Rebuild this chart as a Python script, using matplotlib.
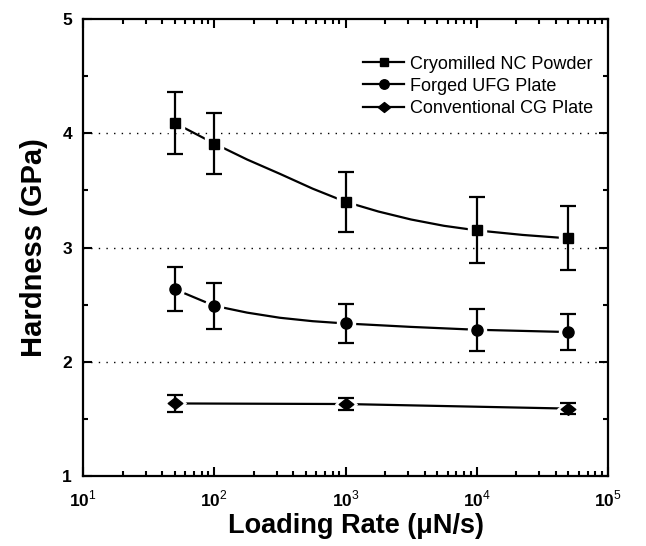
import numpy as np
import matplotlib
matplotlib.use("Agg")
import matplotlib.pyplot as plt
from matplotlib.lines import Line2D
from matplotlib.path import Path
from matplotlib.ticker import FixedLocator, FuncFormatter, LogLocator, MultipleLocator

plt.rcParams['font.family'] = ['Liberation Sans', 'DejaVu Sans']
plt.rcParams['mathtext.fontset'] = 'custom'
plt.rcParams['mathtext.rm'] = 'Liberation Sans'
plt.rcParams['mathtext.bf'] = 'Liberation Sans:bold'

# measured points
rate = [50, 100, 1000, 10000, 50000]
nc_hardness = [4.09, 3.91, 3.40, 3.15, 3.08]
nc_err = [0.27, 0.27, 0.265, 0.29, 0.28]
ufg_hardness = [2.635, 2.49, 2.335, 2.28, 2.26]
ufg_err = [0.19, 0.20, 0.17, 0.185, 0.16]
cg_rate = [50, 1000, 50000]
cg_hardness = [1.635, 1.63, 1.59]
cg_err = [0.075, 0.055, 0.05]

# fitted curves
nc_fit_rate = [50, 100, 178, 316, 562, 1000, 1780, 3160, 5620, 10000, 22400, 50000]
nc_fit = [4.09, 3.91, 3.77, 3.645, 3.515, 3.40, 3.315, 3.245, 3.19, 3.15, 3.11, 3.08]
ufg_fit_rate = [50, 100, 178, 316, 562, 1000, 3160, 10000, 50000]
ufg_fit = [2.635, 2.49, 2.43, 2.385, 2.355, 2.335, 2.305, 2.28, 2.26]
cg_fit_rate = [50, 1000, 50000]
cg_fit = [1.635, 1.63, 1.59]

labels = ['Cryomilled NC Powder', 'Forged UFG Plate', 'Conventional CG Plate']

# wide diamond like the original
diamond = Path([(-1.0, 0.0), (0.0, 0.8), (1.0, 0.0), (0.0, -0.8), (-1.0, 0.0)],
               [Path.MOVETO, Path.LINETO, Path.LINETO, Path.LINETO, Path.CLOSEPOLY])

fig = plt.figure(figsize=(6.46, 5.46), dpi=100)
ax = fig.add_axes([83 / 646, 70 / 546, 525 / 646, 457 / 546])

for y in [2, 3, 4]:
    ax.axhline(y, color='black', lw=1.0, ls=(0, (1, 4.5)), zorder=1)

series = [
    (rate, nc_hardness, nc_err, nc_fit_rate, nc_fit, 's', 7.5),
    (rate, ufg_hardness, ufg_err, ufg_fit_rate, ufg_fit, 'o', 8.0),
    (cg_rate, cg_hardness, cg_err, cg_fit_rate, cg_fit, diamond, 10.5),
]

handles = []
for x, y, err, fx, fy, mk, ms in series:
    ax.plot(fx, fy, color='black', lw=1.6, zorder=2)
    # white halo so the curve stops short of each marker
    ax.plot(x, y, ls='none', marker=mk, ms=ms + 5, color='white', mec='white', zorder=3)
    ax.errorbar(x, y, yerr=err, fmt='none', ecolor='black', elinewidth=1.6,
                capsize=6, capthick=1.6, zorder=4)
    ax.plot(x, y, ls='none', marker=mk, ms=ms, color='black', zorder=5)
    handles.append(Line2D([], [], color='black', lw=1.6, marker=mk, ms=ms * 0.85))

ax.set_xscale('log')
ax.set_xlim(10, 1e5)
ax.set_ylim(1, 5)

ax.xaxis.set_major_locator(FixedLocator([1e1, 1e2, 1e3, 1e4, 1e5]))
ax.xaxis.set_minor_locator(LogLocator(base=10, subs=np.arange(2, 10), numticks=20))
ax.xaxis.set_major_formatter(FuncFormatter(
    lambda v, p: r'$\mathbf{10}^{\mathrm{%d}}$' % round(np.log10(v))))
ax.yaxis.set_major_locator(MultipleLocator(1))
ax.yaxis.set_minor_locator(MultipleLocator(0.5))

ax.tick_params(which='both', direction='in', top=True, right=True, width=1.5)
ax.tick_params(which='major', length=6.5, labelsize=12.5)
ax.tick_params(which='minor', length=3.5)
ax.tick_params(axis='x', which='major', pad=9)
ax.tick_params(axis='y', which='major', pad=8)
for lab in ax.get_yticklabels():
    lab.set_fontweight('bold')
for sp in ax.spines.values():
    sp.set_linewidth(1.6)

ax.set_xlabel('Loading Rate (\u03bcN/s)', fontsize=19.5, fontweight='bold')
ax.set_ylabel('Hardness (GPa)', fontsize=21, fontweight='bold')
ax.xaxis.set_label_coords(0.52, -0.082)
ax.yaxis.set_label_coords(-0.066, 0.5)

ax.legend(handles, labels, loc='upper left', bbox_to_anchor=(0.533, 0.92),
          frameon=False, fontsize=13, handlelength=2.3, handletextpad=0.3,
          labelspacing=0.29, borderpad=0, borderaxespad=0)

fig.savefig('out.png', dpi=100)
